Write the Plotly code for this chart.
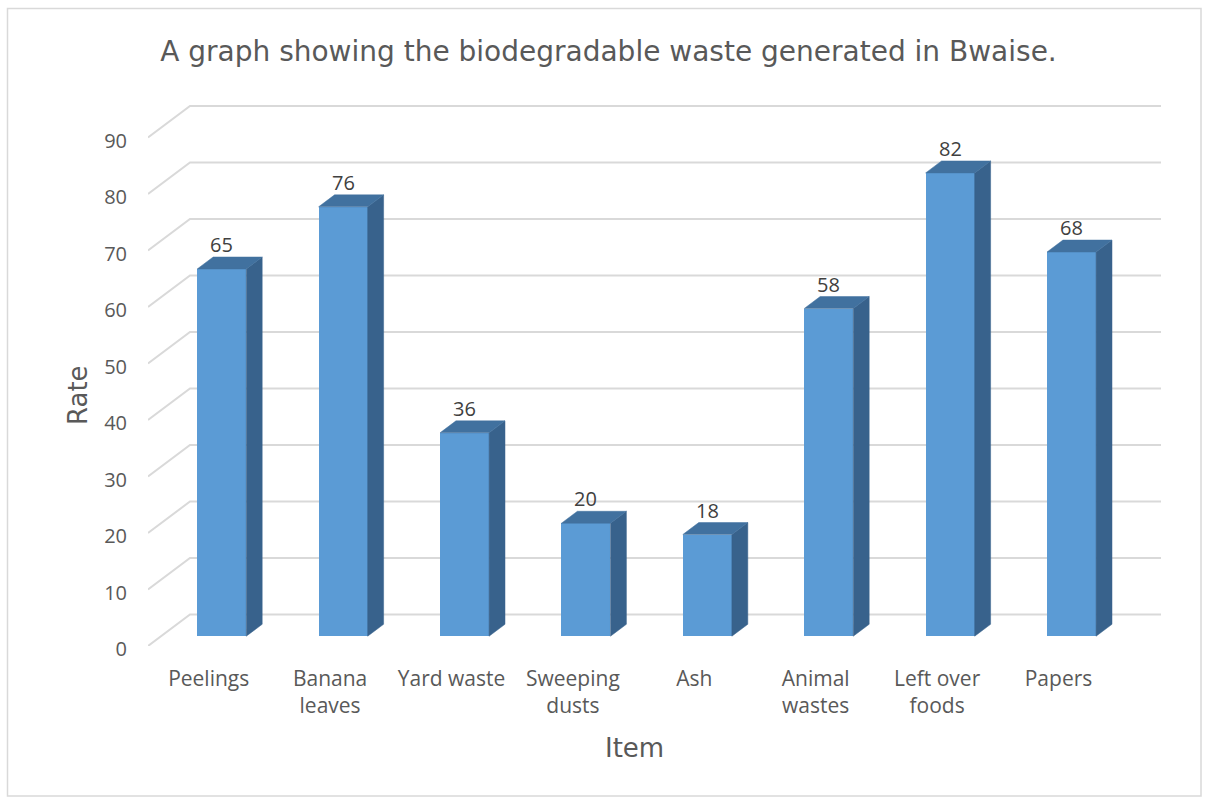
import plotly.graph_objects as go

# ---- data ----
categories = ["Peelings", "Banana<br>leaves", "Yard waste", "Sweeping<br>dusts", "Ash",
              "Animal<br>wastes", "Left over<br>foods", "Papers"]
values = [65, 76, 36, 20, 18, 58, 82, 68]
y_ticks = [0, 10, 20, 30, 40, 50, 60, 70, 80, 90]

# ---- geometry (pixels) ----
W, H = 1209, 798
L, R, T, B = 148, 48, 100, 152
plot_w = W - L - R
plot_h = H - T - B
cat_px = 121.4        # px per category at the front floor
unit_px = 5.65        # px per value unit
depth_dx, depth_dy = 42.0, 31.5   # full depth offset (px)
d_front, d_back = 0.311, 0.69     # bar position in depth
bar_w = 0.404

x_range = [0, plot_w / cat_px]
y_range = [0, plot_h / unit_px]
sx = depth_dx * d_front / cat_px
sy = depth_dy * d_front / unit_px
bx = depth_dx * (d_back - d_front) / cat_px
by = depth_dy * (d_back - d_front) / unit_px
back_x = depth_dx / cat_px
back_y = depth_dy / unit_px
n = len(categories)

FRONT = "#5B9BD5"
SIDE = "#38628C"
TOP = "#41719F"
GRID = "#D9D9D9"
TXT = "#595959"

fig = go.Figure()

# gridlines: left wall diagonals + back wall horizontals
gx, gy = [], []
for v in y_ticks:
    gx += [0, back_x, n + back_x, None]
    gy += [v, v + back_y, v + back_y, None]
fig.add_trace(go.Scatter(x=gx, y=gy, mode="lines", line=dict(color=GRID, width=2),
                         hoverinfo="skip", showlegend=False, xaxis="x", yaxis="y",
                         cliponaxis=False))

# front faces of bars
xc = [i + 0.5 for i in range(n)]
fig.add_trace(go.Bar(x=xc, y=values, width=bar_w, marker=dict(color=FRONT, line=dict(width=0)),
                     showlegend=False, xaxis="x2", yaxis="y2"))

# side and top faces
for i, v in enumerate(values):
    xl = xc[i] - bar_w / 2
    xr = xc[i] + bar_w / 2
    fig.add_trace(go.Scatter(x=[xr, xr + bx, xr + bx, xr, xr], y=[0, by, v + by, v, 0],
                             fill="toself", fillcolor=SIDE, mode="lines",
                             line=dict(color=SIDE, width=0.5), hoverinfo="skip",
                             showlegend=False, xaxis="x2", yaxis="y2"))
    fig.add_trace(go.Scatter(x=[xl, xr, xr + bx, xl + bx, xl], y=[v, v, v + by, v + by, v],
                             fill="toself", fillcolor=TOP, mode="lines",
                             line=dict(color=TOP, width=0.5), hoverinfo="skip",
                             showlegend=False, xaxis="x2", yaxis="y2"))

annotations = []
for i, v in enumerate(values):
    annotations.append(dict(x=xc[i], y=v, xref="x2", yref="y2", text=str(v), showarrow=False,
                            yanchor="bottom", xanchor="center", yshift=9,
                            font=dict(family="Open Sans", size=20, color="#404040")))

def px_x(p):
    return (p - L) / plot_w

def px_y(p):
    return (H - B - p) / plot_h

annotations.append(dict(x=px_x(78), y=px_y(395), xref="paper", yref="paper", text="Rate",
                        textangle=-90, showarrow=False, xanchor="center", yanchor="middle",
                        font=dict(family="DejaVu Sans", size=26, color=TXT)))
annotations.append(dict(x=px_x(634), y=px_y(748), xref="paper", yref="paper", text="Item",
                        showarrow=False, xanchor="center", yanchor="middle",
                        font=dict(family="DejaVu Sans", size=26, color=TXT)))

fig.update_layout(
    width=W, height=H,
    margin=dict(l=L, r=R, t=T, b=B, autoexpand=False),
    paper_bgcolor="white", plot_bgcolor="white",
    title=dict(text="A graph showing the biodegradable waste generated in Bwaise.",
               x=608.5 / W, y=1 - 51 / H, xref="container", yref="container",
               xanchor="center", yanchor="middle",
               font=dict(family="DejaVu Sans", size=28, color=TXT)),
    xaxis=dict(range=x_range, tickvals=xc, ticktext=categories, showgrid=False, zeroline=False,
               showline=False, ticks="", ticklabelstandoff=18,
               tickfont=dict(family="Open Sans", size=21, color=TXT), fixedrange=True),
    yaxis=dict(range=y_range, tickvals=y_ticks, showgrid=False, zeroline=False, showline=False,
               ticks="", ticklabelstandoff=20, ticklabelshift=3,
               tickfont=dict(family="Open Sans", size=20, color=TXT), fixedrange=True),
    xaxis2=dict(range=[x_range[0] - sx, x_range[1] - sx], overlaying="x", visible=False,
                fixedrange=True),
    yaxis2=dict(range=[y_range[0] - sy, y_range[1] - sy], overlaying="y", visible=False,
                fixedrange=True),
    annotations=annotations,
    shapes=[dict(type="rect", xref="paper", yref="paper",
                 x0=px_x(7.5), x1=px_x(1201), y0=px_y(796), y1=px_y(8.5),
                 line=dict(color="#D9D9D9", width=1.5), fillcolor="rgba(0,0,0,0)", layer="below")],
    bargap=0,
)

fig.write_html("out.html")
